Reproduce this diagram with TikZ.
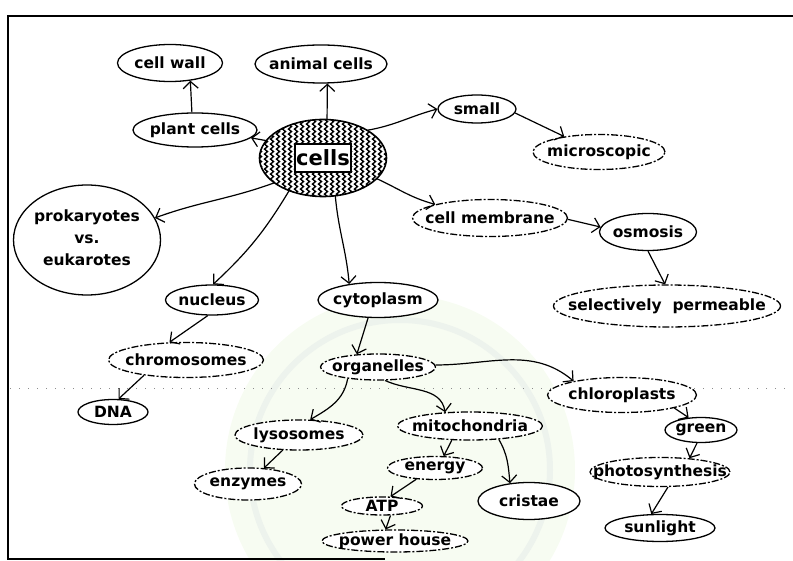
\documentclass[tikz,border=0pt]{standalone}
\usepackage{fontspec}
\setmainfont{DejaVu Sans}
\usetikzlibrary{arrows.meta,decorations.pathmorphing,shapes.geometric}
\newcommand{\zt}[1]{\makebox[0pt]{#1}}
\begin{document}
\begin{tikzpicture}[x=1pt,y=1pt,
 every node/.style={font=\fontsize{15.5}{17}\selectfont\bfseries},
 bub/.style={ellipse,draw,line width=1.3pt,fill=white,inner sep=0pt},
 dbub/.style={bub,dash pattern=on 7pt off 2pt on 2pt off 2pt},
 conn/.style={line width=1.2pt,-{Straight Barb[length=7pt,width=15pt,line width=1.2pt]}}]
\useasboundingbox (0,0) rectangle (793,-561);
% watermark
\fill[yellow!40!green!5] (400,-470) circle (175);
\draw[green!30!black!7,line width=6pt] (400,-470) circle (150);
% frame and dotted line
\draw[line width=1.3pt] (793,-16) -- (8,-16) -- (8,-559) -- (385,-559);
\draw[black!45,line width=0.8pt,dash pattern=on 1pt off 8pt] (10,-388) -- (793,-388);

% nodes
\node[bub,minimum width=105pt,minimum height=37pt] (wall) at (170,-63) {\zt{cell wall}};
\node[bub,minimum width=132pt,minimum height=38pt] (animal) at (321,-64) {\zt{animal cells}};
\node[bub,minimum width=124pt,minimum height=34pt] (plant) at (195,-130) {\zt{plant cells}};
\node[ellipse,inner sep=0pt,minimum width=127pt,minimum height=77pt] (cells) at (323,-158) {};
\node[bub,minimum width=147pt,minimum height=110pt] (prok) at (87,-240) {\zt{\begin{tabular}{@{}c@{}}prokaryotes\\[5pt]vs.\\[5pt]eukarotes\end{tabular}}};
\node[bub,minimum width=78pt,minimum height=28pt] (small) at (477,-109) {\zt{small}};
\node[dbub,minimum width=132pt,minimum height=35pt] (micro) at (599,-152) {\zt{microscopic}};
\node[dbub,minimum width=155pt,minimum height=37pt] (memb) at (490,-218) {\zt{cell membrane}};
\node[bub,minimum width=97pt,minimum height=37pt] (osmo) at (648,-232) {\zt{osmosis}};
\node[dbub,minimum width=227pt,minimum height=42pt] (perm) at (667,-306) {\zt{selectively\ \ permeable}};
\node[bub,minimum width=93pt,minimum height=30pt] (nucl) at (212,-300) {\zt{nucleus}};
\node[bub,minimum width=120pt,minimum height=35pt] (cyto) at (378,-300) {\zt{cytoplasm}};
\node[dbub,minimum width=155pt,minimum height=35pt] (chrom) at (186,-360) {\zt{chromosomes}};
\node[dbub,minimum width=115pt,minimum height=26pt] (org) at (378,-367) {\zt{organelles}};
\node[bub,minimum width=70pt,minimum height=25pt] (dna) at (113,-412) {\zt{DNA}};
\node[dbub,minimum width=149pt,minimum height=35pt] (chloro) at (622,-395) {\zt{chloroplasts}};
\node[dbub,minimum width=128pt,minimum height=30pt] (lyso) at (299,-435) {\zt{lysosomes}};
\node[dbub,minimum width=145pt,minimum height=28pt] (mito) at (470,-426) {\zt{mitochondria}};
\node[bub,minimum width=72pt,minimum height=25pt] (green) at (701,-430) {\zt{green}};
\node[dbub,minimum width=95pt,minimum height=23pt] (energy) at (435,-468) {\zt{energy}};
\node[dbub,minimum width=107pt,minimum height=32pt] (enz) at (248,-484) {\zt{enzymes}};
\node[dbub,minimum width=140pt,minimum height=29pt] (photo) at (660,-472) {\zt{photosynthesis}};
\node[bub,minimum width=102pt,minimum height=37pt] (cristae) at (529,-501) {\zt{cristae}};
\node[dbub,minimum width=81pt,minimum height=18pt] (atp) at (382,-506) {\zt{ATP}};
\node[dbub,minimum width=146pt,minimum height=22pt] (power) at (395,-541) {\zt{power house}};
\node[bub,minimum width=110pt,minimum height=27pt] (sun) at (660,-528) {\zt{sunlight}};

% hatched cells node
\begin{scope}
\clip (cells.center) ellipse (63.5 and 38.5);
\fill[white] (cells.center) ellipse (63.5 and 38.5);
\foreach \i in {0,...,22}{
  \draw[black,line width=1.4pt,decorate,decoration={snake,amplitude=1.5pt,segment length=5pt}]
    (260+\i*6,-115) -- (260+\i*6,-200);
}
\end{scope}
\draw[line width=1.6pt] (cells.center) ellipse (63.5 and 38.5);
\node[draw,line width=1.5pt,fill=white,minimum width=56pt,minimum height=28pt,inner sep=0pt,font=\fontsize{21}{22}\selectfont\bfseries] (cellsbox) at (cells.center) {cells};

% connectors
\draw[conn] (plant.100) -- (wall.-41);
\draw[conn] (cells.84) -- (animal.-72);
\draw[conn] (cells.163) -- (plant.-8);
\draw[conn] (cells.32) to[out=10,in=195] (small.180);
\draw[conn] (small.-6) -- (micro.156);
\draw[conn] (cells.-21) to[out=-25,in=165] (memb.166);
\draw[conn] (memb.-1) -- (osmo.174);
\draw[conn] (osmo.-90) -- (perm.95);
\draw[conn] (cells.207) to[out=200,in=20] (prok.18);
\draw[conn] (cells.224) to[bend left=8] (nucl.86);
\draw[conn] (cells.-72) to[out=-85,in=95] (cyto.151);
\draw[conn] (nucl.-105) -- (chrom.133);
\draw[conn] (chrom.200) -- (dna.67);
\draw[conn] (cyto.-119) -- (org.149);
\draw[conn] (org.201) to[out=-100,in=30] (lyso.54);
\draw[conn] (org.-62) to[out=-25,in=100] (mito.151);
\draw[conn] (org.2) to[out=0,in=140] (chloro.164);
\draw[conn] (lyso.223) -- (enz.45);
\draw[conn] (mito.218) -- (energy.54);
\draw[conn] (mito.-25) to[out=-60,in=95] (cristae.137);
\draw[conn] (energy.211) -- (atp.48);
\draw[conn] (atp.-48) -- (power.129);
\draw[conn] (chloro.-14) -- (green.135);
\draw[conn] (green.-107) -- (photo.25);
\draw[conn] (photo.-62) -- (sun.122);
\end{tikzpicture}
\end{document}
